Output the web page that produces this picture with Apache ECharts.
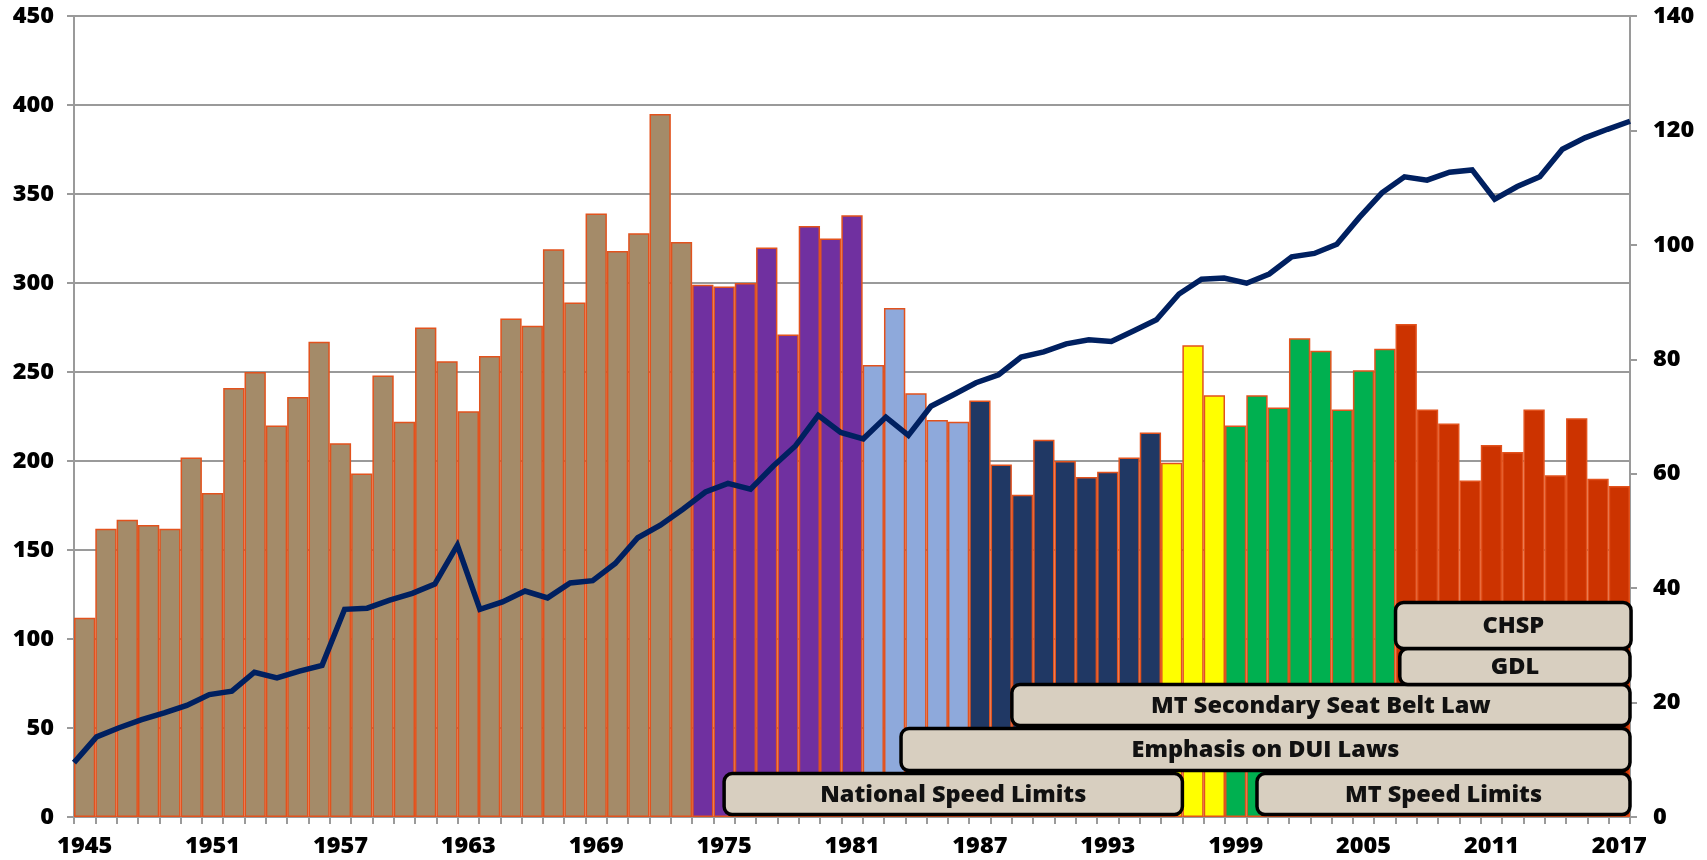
<!DOCTYPE html>
<html>
<head>
<meta charset="utf-8">
<script src="https://cdn.jsdelivr.net/npm/echarts@6/dist/echarts.min.js"></script>
<style>
html,body{margin:0;padding:0;background:#fff;}
#chart{width:1707px;height:860px;}
</style>
</head>
<body>
<div id="chart"></div>
<script>
// ---------------- DATA ----------------
const years = ['1945','1946','1947','1948','1949','1950','1951','1952','1953','1954',
  '1955','1956','1957','1958','1959','1960','1961','1962','1963','1964',
  '1965','1966','1967','1968','1969','1970','1971','1972','1973','1974',
  '1975','1976','1977','1978','1979','1980','1981','1982','1983','1984',
  '1985','1986','1987','1988','1989','1990','1991','1992','1993','1994',
  '1995','1996','1997','1998','1999','2000','2001','2002','2003','2004',
  '2005','2006','2007','2008','2009','2010','2011','2012','2013','2014',
  '2015','2016','2017'];

const fatalities = [112,162,167,164,162,202,182,241,250,220,
  236,267,210,193,248,222,275,256,228,259,
  280,276,319,289,339,318,328,395,323,299,
  298,300,320,271,332,325,338,254,286,238,
  223,222,234,198,181,212,200,191,194,202,
  216,199,265,237,220,237,230,269,262,229,
  251,263,277,229,221,189,209,205,229,192,
  224,190,186];

// era start years (bars colored by era)
const eraStartYears = [1945, 1974, 1982, 1987, 1996, 1999, 2007];

// line series (right axis), 70 points spread over the full width
const travelValues = [9.5,14.0,15.6,17.0,18.2,19.5,21.4,22.0,25.3,24.3,
  25.5,26.5,36.3,36.5,37.9,39.1,40.7,47.5,36.3,37.6,
  39.5,38.3,40.9,41.3,44.3,48.8,51.0,53.8,56.8,58.3,
  57.3,61.3,64.9,70.2,67.2,66.1,69.9,66.7,71.8,73.8,
  75.9,77.3,80.4,81.3,82.7,83.4,83.1,85.0,86.9,91.4,
  94.0,94.2,93.3,94.9,97.9,98.5,100.1,104.8,109.1,111.9,
  111.3,112.7,113.1,108.0,110.2,111.9,116.7,118.7,120.2,121.6];

// policy periods
const policyLabels = ['National Speed Limits','Emphasis on DUI Laws','MT Secondary Seat Belt Law','MT Speed Limits','GDL','CHSP'];
const policyStart  = [1975.5, 1983.8, 1989.0, 2000.5, 2007.2, 2007.0];
const policyEnd    = [1997.0, 2018.0, 2018.0, 2018.0, 2018.0, 2018.05];
const policyRow    = [0, 1, 2, 0, 3, 4];

// ---------------- STYLE / LAYOUT ----------------
const eraColors = ['#A48B69', '#7030A0', '#8EA9DB', '#203864', '#FFFF00', '#00B050', '#CC3300'];
const rowBands = [[1.4, 24.4], [26.1, 49.7], [51.4, 74.4], [74.4, 94.6], [94.6, 120.5]];
const FONT = '"Open Sans"';
const GRAY = '#9A9A9A';

function eraIndex(y) {
  let k = 0;
  for (let i = 0; i < eraStartYears.length; i++) if (y >= eraStartYears[i]) k = i;
  return k;
}

const barData = fatalities.map((v, i) => ({
  value: v,
  itemStyle: { color: eraColors[eraIndex(parseInt(years[i], 10))] }
}));

const lineCats = travelValues.map((_, i) => 'p' + i);

const policyData = policyLabels.map((l, i) => [policyStart[i], policyEnd[i], policyRow[i], l]);

const firstYear = parseInt(years[0], 10);

const axisFont = { color: '#000', fontFamily: FONT, fontWeight: 800, fontSize: 23.5 };

const chart = echarts.init(document.getElementById('chart'));
chart.setOption({
  animation: false,
  backgroundColor: '#fff',
  grid: { left: 74, right: 77, top: 16, bottom: 43, containLabel: false },
  xAxis: [
    {
      type: 'category', data: years, position: 'bottom',
      boundaryGap: true,
      axisLine: { show: true, lineStyle: { color: GRAY, width: 2 } },
      axisTick: { show: true, interval: 0, length: 7, lineStyle: { color: GRAY, width: 2 } },
      axisLabel: Object.assign({ interval: 5, margin: 17 }, axisFont),
      splitLine: { show: false }
    },
    {
      type: 'category', data: lineCats, position: 'top',
      boundaryGap: false,
      axisLine: { show: true, lineStyle: { color: GRAY, width: 2 } },
      axisTick: { show: true, interval: 9, length: 7, lineStyle: { color: GRAY, width: 2 } },
      axisLabel: { show: false },
      splitLine: { show: false }
    }
  ],
  yAxis: [
    {
      type: 'value', min: 0, max: 450, interval: 50, position: 'left',
      axisLine: { show: true, lineStyle: { color: GRAY, width: 2 } },
      axisTick: { show: true, length: 7, lineStyle: { color: GRAY, width: 2 } },
      axisLabel: Object.assign({ margin: 20 }, axisFont),
      splitLine: { show: true, lineStyle: { color: GRAY, width: 2 } }
    },
    {
      type: 'value', min: 0, max: 140, interval: 20, position: 'right',
      axisLine: { show: true, lineStyle: { color: GRAY, width: 2 } },
      axisTick: { show: true, length: 7, lineStyle: { color: GRAY, width: 2 } },
      axisLabel: Object.assign({ margin: 23 }, axisFont),
      splitLine: { show: false }
    }
  ],
  series: [
    {
      type: 'bar', xAxisIndex: 0, yAxisIndex: 0,
      data: barData,
      barCategoryGap: '0%',
      itemStyle: { borderColor: '#E2521D', borderWidth: 1.5 },
      z: 2
    },
    {
      type: 'line', xAxisIndex: 1, yAxisIndex: 1,
      data: travelValues,
      symbol: 'none',
      lineStyle: { color: '#002060', width: 5.5, join: 'miter' },
      z: 3
    },
    {
      type: 'custom', xAxisIndex: 0, yAxisIndex: 0,
      data: policyData,
      z: 5,
      renderItem: function (params, api) {
        const bandW = api.size([1, 0])[0];
        const x0ref = api.coord([0, 0])[0] - bandW / 2;
        const xs = x0ref + (api.value(0) - firstYear) * bandW;
        const xe = x0ref + (api.value(1) - firstYear) * bandW;
        const band = rowBands[api.value(2)];
        const yTop = api.coord([0, band[1]])[1];
        const yBot = api.coord([0, band[0]])[1];
        const label = policyData[params.dataIndex][3];
        return {
          type: 'group',
          children: [
            {
              type: 'rect',
              shape: { x: xs, y: yTop, width: xe - xs, height: yBot - yTop, r: 8 },
              style: { fill: '#D8CFC0', stroke: '#000', lineWidth: 3.5 }
            },
            {
              type: 'text',
              x: (xs + xe) / 2, y: (yTop + yBot) / 2 + 1,
              style: {
                text: label, fill: '#111', font: '800 23.5px ' + FONT,
                align: 'center', verticalAlign: 'middle'
              }
            }
          ]
        };
      }
    }
  ]
});
</script>
</body>
</html>
